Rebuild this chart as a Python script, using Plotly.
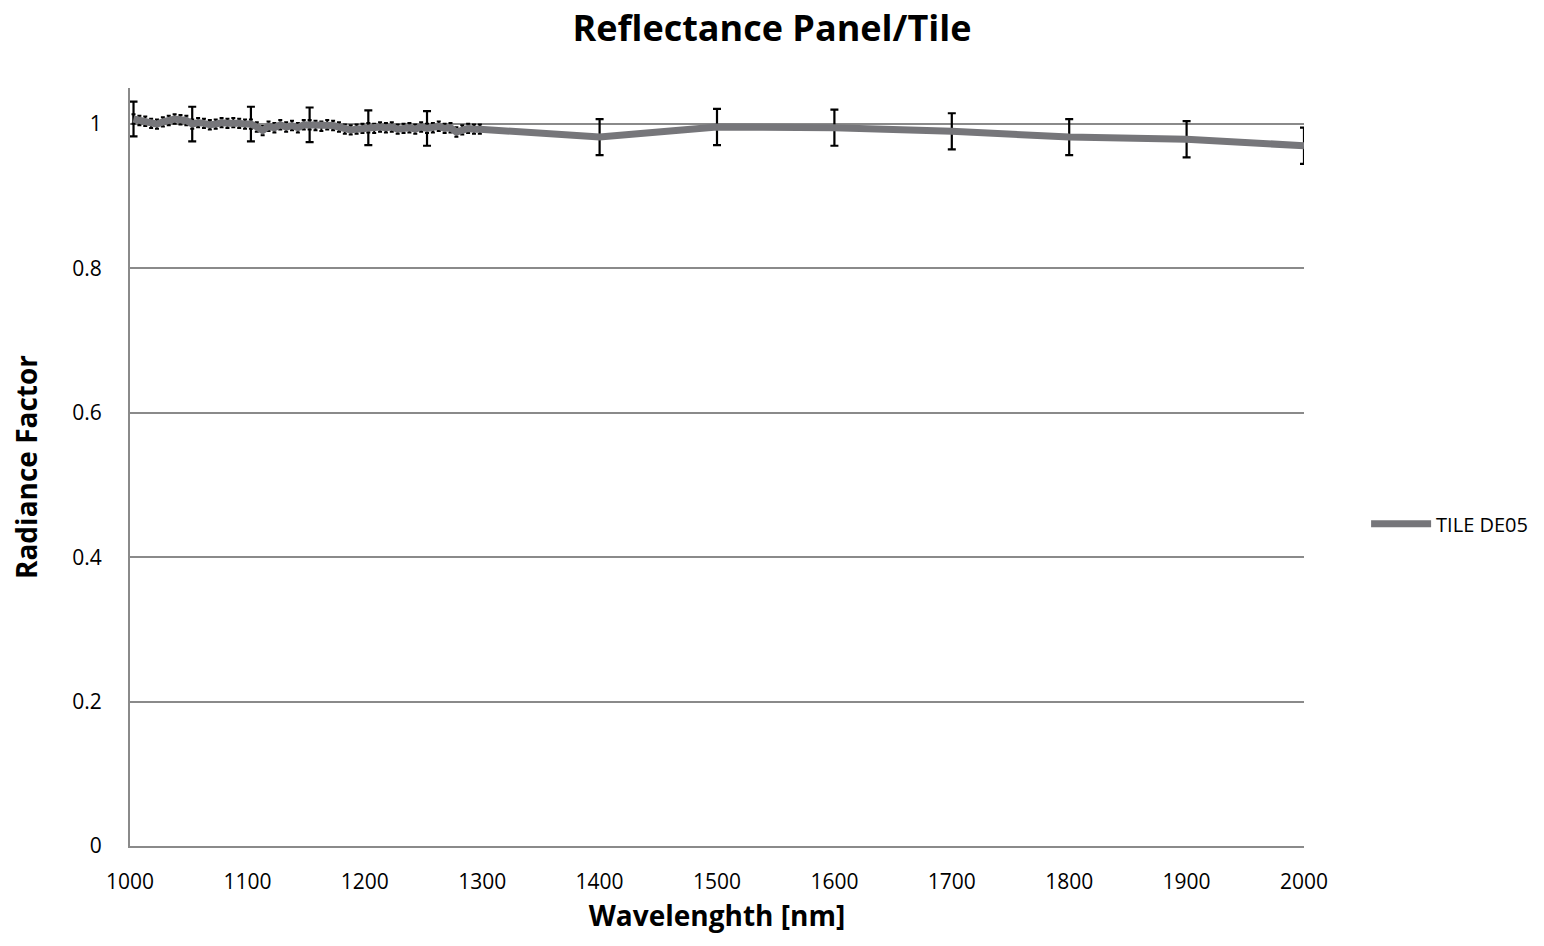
import plotly.graph_objects as go

# Dense scan 1003-1298 nm (5 nm steps)
dense_wl = [1003 + 5 * i for i in range(60)]
dense_rf = [
    1.007, 1.005, 1.004, 1.001, 1.000, 1.003, 1.005, 1.007, 1.006, 1.005,
    1.000, 1.002, 1.001, 0.999, 1.000, 1.002, 1.001, 1.002, 1.001, 1.000,
    1.000, 0.996, 0.991, 0.997, 0.995, 0.999, 0.996, 0.998, 0.995, 0.999,
    0.999, 0.998, 0.997, 0.999, 0.998, 0.996, 0.993, 0.992, 0.993, 0.994,
    0.995, 0.994, 0.996, 0.995, 0.996, 0.993, 0.994, 0.995, 0.993, 0.996,
    0.994, 0.995, 0.997, 0.994, 0.995, 0.989, 0.992, 0.994, 0.993, 0.993,
]
# Small uncertainty at every dense point
dense_err = [0.0065] * 60

# Expanded uncertainty, every 50 nm of the dense scan
wide_idx = list(range(0, 60, 10))
wide_err = [0.024] * len(wide_idx)

# Coarse scan 1400-2000 nm
coarse_wl = [1400, 1500, 1600, 1700, 1800, 1900, 2000]
coarse_rf = [0.982, 0.996, 0.995, 0.990, 0.982, 0.979, 0.970]
coarse_err = [0.025, 0.025, 0.025, 0.025, 0.025, 0.025, 0.025]

wl = dense_wl + coarse_wl
rf = dense_rf + coarse_rf

x_ticks = [1000, 1100, 1200, 1300, 1400, 1500, 1600, 1700, 1800, 1900, 2000]
y_ticks = [0, 0.2, 0.4, 0.6, 0.8, 1]
y_tick_text = ["0", "0.2", "0.4", "0.6", "0.8", "1"]

FONT = "Open Sans"

fig = go.Figure()

# Small caps on the dense scan
fig.add_trace(go.Scatter(
    x=dense_wl, y=dense_rf, mode="markers",
    marker=dict(size=1, color="rgba(0,0,0,0)"),
    error_y=dict(type="data", array=dense_err, visible=True,
                 color="black", thickness=2, width=2),
    showlegend=False, hoverinfo="skip",
))

# Wide error bars: every 50 nm in the dense scan plus the coarse points
fig.add_trace(go.Scatter(
    x=[dense_wl[i] for i in wide_idx] + coarse_wl,
    y=[dense_rf[i] for i in wide_idx] + coarse_rf,
    mode="markers",
    marker=dict(size=1, color="rgba(0,0,0,0)"),
    error_y=dict(type="data", array=wide_err + coarse_err, visible=True,
                 color="black", thickness=2.2, width=4),
    showlegend=False, hoverinfo="skip",
))

fig.add_trace(go.Scatter(
    x=wl, y=rf, mode="lines", name="TILE DE05",
    line=dict(color="#76767a", width=7),
))

fig.update_layout(
    width=1544, height=946,
    paper_bgcolor="white", plot_bgcolor="white",
    margin=dict(l=130, r=239, t=88, b=100),
    font=dict(family=FONT, size=20, color="black"),
    title=dict(text="<b>Reflectance Panel/Tile</b>", x=0.5, xanchor="center",
               y=0.97, yanchor="middle",
               font=dict(family=FONT, size=36, color="black")),
    legend=dict(x=1.052, y=0.425, xanchor="left", yanchor="middle",
                font=dict(family=FONT, size=20, color="black"),
                bgcolor="rgba(0,0,0,0)", itemwidth=60),
    showlegend=True,
)

fig.update_xaxes(
    range=[1000, 2000], tickvals=x_ticks,
    showgrid=False, zeroline=False,
    showline=True, linecolor="#8a8a8a", linewidth=2,
    ticks="", ticklabelstandoff=16,
    tickfont=dict(family=FONT, size=21),
    title=dict(text="<b>Wavelenghth [nm]</b>", standoff=12,
               font=dict(family=FONT, size=28)),
)
fig.update_yaxes(
    range=[0, 1.05], tickvals=y_ticks, ticktext=y_tick_text,
    showgrid=True, gridcolor="#8a8a8a", gridwidth=1.5,
    zeroline=False,
    showline=True, linecolor="#8a8a8a", linewidth=2,
    ticks="", ticklabelstandoff=22,
    tickfont=dict(family=FONT, size=21),
    title=dict(text="<b>Radiance Factor</b>", standoff=26,
               font=dict(family=FONT, size=28)),
)

fig.write_html("out.html")
